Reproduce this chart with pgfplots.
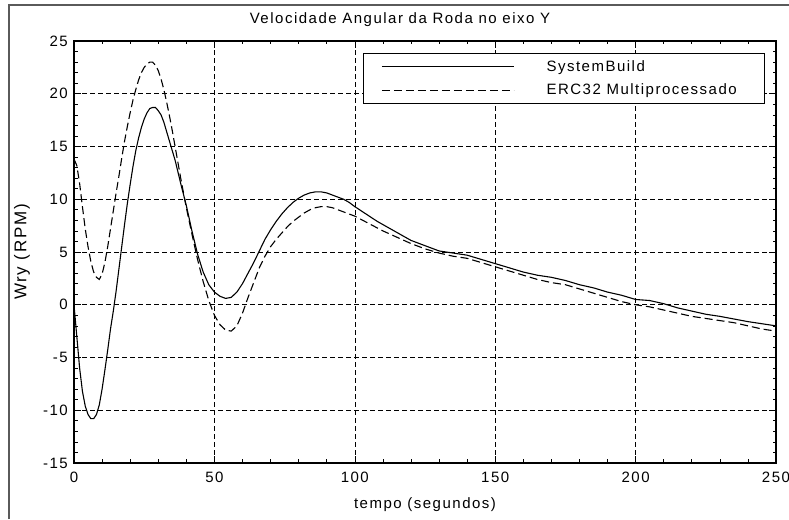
\documentclass[border=0pt]{standalone}
\usepackage{fontspec}
\setmainfont{Liberation Sans}[LetterSpace=10]
\usepackage{pgfplots}
\pgfplotsset{compat=1.18}
\pgfplotstableread{
t v
0 0
1 -3.0
2 -6.0
3 -8.2
4 -9.6
5 -10.4
6 -10.8
7 -10.8
8 -10.4
9 -9.5
10 -8.0
11 -6.2
12 -4.3
13 -2.3
14 -0.6
15 1.3
16 3.4
17 5.5
18 7.6
19 9.6
20 11.4
21 13.1
22 14.6
23 15.8
24 16.8
25 17.6
26 18.2
27 18.6
28 18.7
29 18.7
30 18.4
31 18.0
32 17.3
33 16.4
34 15.5
35 14.6
36 13.7
38 11.5
40 9.4
42 7.0
44 4.8
46 3.1
48 1.9
50 1.2
52 0.8
54 0.6
56 0.7
58 1.2
60 2.0
62 3.0
64 4.0
66 5.1
68 6.2
70 7.1
72 7.9
74 8.6
76 9.2
78 9.7
80 10.1
82 10.4
84 10.6
86 10.7
88 10.7
90 10.6
92 10.4
94 10.2
96 10.0
98 9.7
100 9.3
104 8.6
108 7.9
112 7.3
116 6.7
120 6.1
125 5.6
130 5.1
135 4.9
140 4.7
145 4.3
150 3.9
155 3.5
160 3.1
165 2.8
170 2.6
175 2.3
180 1.9
185 1.6
190 1.2
195 0.9
200 0.5
205 0.4
210 0.1
215 -0.3
220 -0.6
225 -0.9
230 -1.1
235 -1.35
240 -1.6
245 -1.8
250 -2.0
}\sysbuild
\pgfplotstableread{
t v
0 13.8
1 13.2
2 11.5
3 9.3
4 7.2
5 5.5
6 4.1
7 3.1
8 2.6
9 2.4
10 2.9
11 4.0
12 5.5
13 7.2
14 8.9
15 10.6
16 12.2
17 13.9
18 15.5
19 16.9
20 18.2
21 19.4
22 20.4
23 21.3
24 22.0
25 22.5
26 22.8
27 23.0
28 23.0
29 22.7
30 22.2
31 21.4
32 20.4
33 19.2
34 17.9
35 16.5
36 15.0
37 13.5
38 12.0
39 10.6
40 9.2
42 6.7
44 4.3
46 2.2
48 0.4
50 -1.0
52 -1.9
54 -2.4
56 -2.5
58 -2.0
60 -0.8
62 0.7
64 2.1
66 3.5
68 4.6
70 5.5
72 6.2
74 6.8
76 7.4
78 7.9
80 8.3
82 8.7
84 9.0
86 9.2
88 9.3
90 9.3
92 9.2
94 9.0
96 8.8
100 8.4
105 7.7
110 7.0
115 6.4
120 5.8
125 5.3
130 4.9
135 4.6
140 4.4
145 4.0
150 3.6
155 3.2
160 2.8
165 2.4
170 2.1
175 1.9
180 1.5
185 1.1
190 0.7
195 0.3
200 0.0
205 -0.2
210 -0.5
215 -0.8
220 -1.1
225 -1.3
230 -1.5
235 -1.7
240 -2.0
245 -2.3
250 -2.5
}\erc
\begin{document}
\fontsize{15}{17}\selectfont
\begin{tikzpicture}
\path[use as bounding box] (0,0) rectangle (789pt,519pt);
\draw[line width=2pt, color={rgb,255:red,90;green,90;blue,90}] (9pt,0) -- (9pt,514pt) -- (789pt,514pt);
\begin{axis}[
  at={(74pt,56pt)}, anchor=south west,
  scale only axis, width=702pt, height=422pt,
  xmin=0, xmax=250, ymin=-15, ymax=25,
  xtick={0,50,...,250}, ytick={-15,-10,...,25},
  minor x tick num=4, minor y tick num=4,
  tick align=inside,
  major tick length=7pt, minor tick length=3.5pt,
  every tick/.style={black, line width=0.6pt},
  axis line style={line width=1.2pt},
  grid=major,
  major grid style={black, line width=0.6pt, dash pattern=on 5pt off 3pt},
  /pgf/number format/assume math mode=true,
  ticklabel style={font=\fontsize{15}{17}\selectfont},
  xticklabel style={yshift=-4pt},
  yticklabel style={xshift=-1pt},
  title={Velocidade Angular da Roda no eixo Y},
  title style={at={(axis description cs:0.5,1)}, anchor=center, yshift=15pt, xshift=-25pt, font=\fontsize{15}{17}\selectfont},
  xlabel={tempo (segundos)},
  xlabel style={at={(axis description cs:0.5,0)}, anchor=center, yshift=-42pt, font=\fontsize{15}{17}\selectfont},
  ylabel={Wry (RPM)},
  ylabel style={at={(axis description cs:-0.074,0.5)}, anchor=center, font=\fontsize{17}{19}\selectfont},
  legend image code/.code={\draw[#1] (0pt,0pt) -- (132pt,0pt);},
  legend style={at={(axis description cs:0.4117,0.9716)}, anchor=north west,
    draw=black, line width=0.8pt, fill=white, inner xsep=18pt, inner ysep=5pt,
    row sep=6pt, font=\fontsize{15}{17}\selectfont,
    /tikz/every odd column/.append style={column sep=30pt}},
  legend cell align=left,
]
\addplot[black, line width=1.1pt, solid] table[x=t, y=v] {\sysbuild};
\addlegendentry{SystemBuild}
\addplot[black, line width=1.1pt, dash pattern=on 8pt off 4pt] table[x=t, y=v] {\erc};
\addlegendentry{ERC32 Multiprocessado\hspace*{8pt}}
\end{axis}
\end{tikzpicture}
\end{document}
